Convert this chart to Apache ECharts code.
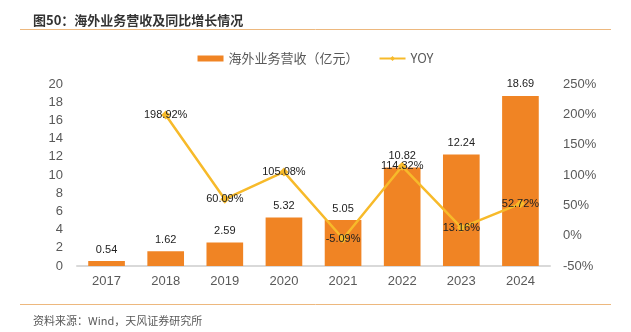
<!DOCTYPE html>
<html><head><meta charset="utf-8">
<script src="https://cdn.jsdelivr.net/npm/echarts@6/dist/echarts.min.js"></script>
<style>html,body{margin:0;padding:0;background:#fff}#c{width:631px;height:332px}</style>
</head><body><div id="c"></div>
<script>
var years = ['2017','2018','2019','2020','2021','2022','2023','2024'];
var revenue = [0.54, 1.62, 2.59, 5.32, 5.05, 10.82, 12.24, 18.69];
var yoy = [null, 198.92, 60.09, 105.08, -5.09, 114.32, 13.16, 52.72];
var leftTicks = [0, 20, 2];
var rightTicks = [-50, 250, 50];
var titleText = '图50：海外业务营收及同比增长情况';
var sourceText = '资料来源：Wind，天风证券研究所';
var barName = '海外业务营收（亿元）';
var lineName = 'YOY';

var chart = echarts.init(document.getElementById('c'), null, {renderer:'canvas'});
var font = '"Noto Sans CJK SC", "Liberation Sans", sans-serif';
var numFont = '"Liberation Sans", Arial, sans-serif';
chart.setOption({
  animation: false,
  textStyle: {fontFamily: font},
  title: [{text: titleText, left: 28, top: 9, textStyle: {fontSize: 13, fontWeight: 'bold', color: '#333', fontFamily: font}},
          {text: sourceText, left: 28, top: 310, textStyle: {fontSize: 11, fontWeight: 'normal', color: '#595959', fontFamily: font}}],
  graphic: [
    {type: 'line', shape: {x1: 20, y1: 29.5, x2: 611, y2: 29.5}, style: {stroke: '#EDB87E', lineWidth: 1}},
    {type: 'line', shape: {x1: 20, y1: 304.5, x2: 611, y2: 304.5}, style: {stroke: '#EDB87E', lineWidth: 1}}
  ],
  legend: {top: 47, left: 'center', itemGap: 20, itemWidth: 26, itemHeight: 6,
    textStyle: {fontSize: 13, color: '#595959', fontFamily: font},
    data: [{name: barName, icon: 'rect'}, {name: lineName}]},
  grid: {left: 77, right: 81, top: 84, bottom: 66, containLabel: false},
  xAxis: {type: 'category', data: years,
    axisLine: {lineStyle: {color: '#D9D9D9', width: 2}}, axisTick: {show: false},
    axisLabel: {fontSize: 13, color: '#595959', margin: 9, fontFamily: numFont}},
  yAxis: [
    {type: 'value', min: leftTicks[0], max: leftTicks[1], interval: leftTicks[2],
     splitLine: {show: false}, axisLine: {show: false}, axisTick: {show: false},
     axisLabel: {fontSize: 13, color: '#595959', margin: 14, fontFamily: numFont}},
    {type: 'value', min: rightTicks[0], max: rightTicks[1], interval: rightTicks[2],
     splitLine: {show: false}, axisLine: {show: false}, axisTick: {show: false},
     axisLabel: {fontSize: 13, color: '#595959', margin: 13, fontFamily: numFont, formatter: '{value}%'}}
  ],
  series: [
    {name: barName, type: 'bar', data: revenue, barWidth: '62%', yAxisIndex: 0,
     itemStyle: {color: '#F08424'},
     label: {show: true, position: 'top', fontSize: 11, color: '#222', distance: 6, fontFamily: numFont}},
    {name: lineName, type: 'line', data: yoy, yAxisIndex: 1,
     symbol: 'diamond', symbolSize: 9, lineStyle: {color: '#F7BA2A', width: 2.5},
     itemStyle: {color: '#F7BA2A'},
     label: {show: true, position: 'inside', fontSize: 11, color: '#222', fontFamily: numFont,
       formatter: function(p){return p.value.toFixed(2) + '%';}}}
  ]
});
</script></body></html>
